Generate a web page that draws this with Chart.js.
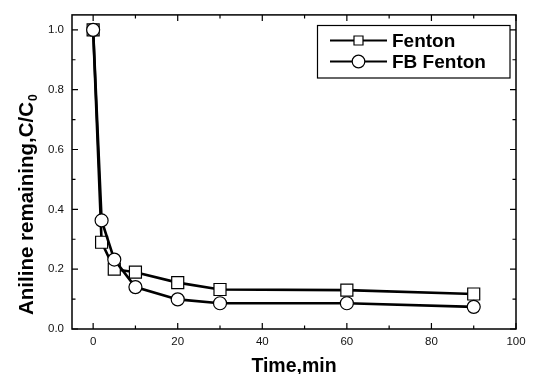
<!DOCTYPE html>
<html>
<head>
<meta charset="utf-8">
<script src="https://cdn.jsdelivr.net/npm/chart.js@4/dist/chart.umd.min.js"></script>
<style>
  html, body { margin: 0; padding: 0; background: #fff; }
  #wrap { width: 534px; height: 374px; }
</style>
</head>
<body>
<div id="wrap"><canvas id="c" width="534" height="374"></canvas></div>
<script>
// ---- data ----
const timeMin = [0, 2, 5, 10, 20, 30, 60, 90];
const fentonValues = [1.0, 0.29, 0.20, 0.19, 0.155, 0.132, 0.13, 0.117];
const fbFentonValues = [1.0, 0.363, 0.232, 0.14, 0.099, 0.086, 0.086, 0.074];
const seriesNames = ['Fenton', 'FB Fenton'];
const xTickValues = [0, 20, 40, 60, 80, 100];
const yTickValues = [0.0, 0.2, 0.4, 0.6, 0.8, 1.0];
const xTitle = 'Time,min';
const yTitle = 'Aniline remaining,C/C';
const yTitleSub = '0';

const FONT = "'Liberation Sans', Arial, Helvetica, sans-serif";

function toPoints(xs, ys) { return xs.map((x, i) => ({ x: x, y: ys[i] })); }

const framePlugin = {
  id: 'frameTicks',
  beforeDatasetsDraw(chart) {
    const { ctx, chartArea: a, scales } = chart;
    const xs = scales.x, ys = scales.y;
    ctx.save();
    ctx.strokeStyle = '#000';
    ctx.lineWidth = 1.5;
    ctx.strokeRect(a.left, a.top, a.right - a.left, a.bottom - a.top);
    ctx.lineWidth = 1.2;
    const major = 6, minor = 3.5;
    for (let i = 0; i < xTickValues.length; i++) {
      const v = xTickValues[i];
      const px = xs.getPixelForValue(v);
      ctx.beginPath();
      ctx.moveTo(px, a.bottom); ctx.lineTo(px, a.bottom - major);
      ctx.moveTo(px, a.top); ctx.lineTo(px, a.top + major);
      ctx.stroke();
      if (i < xTickValues.length - 1) {
        const m = xs.getPixelForValue((v + xTickValues[i + 1]) / 2);
        ctx.beginPath();
        ctx.moveTo(m, a.bottom); ctx.lineTo(m, a.bottom - minor);
        ctx.moveTo(m, a.top); ctx.lineTo(m, a.top + minor);
        ctx.stroke();
      }
    }
    for (let i = 0; i < yTickValues.length; i++) {
      const v = yTickValues[i];
      const py = ys.getPixelForValue(v);
      ctx.beginPath();
      ctx.moveTo(a.left, py); ctx.lineTo(a.left + major, py);
      ctx.moveTo(a.right, py); ctx.lineTo(a.right - major, py);
      ctx.stroke();
      if (i < yTickValues.length - 1) {
        const m = ys.getPixelForValue((v + yTickValues[i + 1]) / 2);
        ctx.beginPath();
        ctx.moveTo(a.left, m); ctx.lineTo(a.left + minor, m);
        ctx.moveTo(a.right, m); ctx.lineTo(a.right - minor, m);
        ctx.stroke();
      }
    }
    ctx.restore();
  },
  afterDraw(chart) {
    const { ctx, chartArea: a } = chart;
    ctx.save();
    ctx.fillStyle = '#000';
    ctx.font = 'bold 19.5px ' + FONT;
    ctx.textAlign = 'center';
    ctx.textBaseline = 'alphabetic';
    ctx.fillText(xTitle, (a.left + a.right) / 2, 372);
    ctx.translate(33, 315);
    ctx.rotate(-Math.PI / 2);
    ctx.textAlign = 'left';
    ctx.font = 'bold 20.5px ' + FONT;
    ctx.fillText(yTitle, 0, 0);
    const w = ctx.measureText(yTitle).width;
    ctx.font = 'bold 12px ' + FONT;
    ctx.fillText(yTitleSub, w + 1, 4);
    ctx.restore();

    ctx.save();
    ctx.strokeStyle = '#000';
    ctx.lineWidth = 1.2;
    ctx.strokeRect(317.5, 25.5, 192.5, 52.5);
    const rows = [40.5, 61.5];
    const styles = ['rect', 'circle'];
    for (let i = 0; i < seriesNames.length; i++) {
      const y = rows[i];
      ctx.lineWidth = 2;
      ctx.beginPath();
      ctx.moveTo(330, y); ctx.lineTo(387, y);
      ctx.stroke();
      ctx.fillStyle = '#fff';
      ctx.lineWidth = 1.2;
      ctx.beginPath();
      if (styles[i] === 'rect') {
        ctx.rect(358.5 - 4.5, y - 4.5, 9, 9);
      } else {
        ctx.arc(358.5, y, 6.3, 0, Math.PI * 2);
      }
      ctx.fill();
      ctx.stroke();
      ctx.fillStyle = '#000';
      ctx.font = 'bold 19px ' + FONT;
      ctx.textAlign = 'left';
      ctx.textBaseline = 'middle';
      ctx.fillText(seriesNames[i], 392, y + 1);
    }
    ctx.restore();
  }
};

new Chart(document.getElementById('c'), {
  type: 'line',
  data: {
    datasets: [
      {
        label: seriesNames[1],
        data: toPoints(timeMin, fbFentonValues),
        borderColor: '#000',
        borderWidth: 2.6,
        pointStyle: 'circle',
        pointRadius: 6.5,
        pointHoverRadius: 6.5,
        pointBackgroundColor: '#fff',
        pointBorderColor: '#000',
        pointBorderWidth: 1.2,
        tension: 0,
        fill: false
      },
      {
        label: seriesNames[0],
        data: toPoints(timeMin, fentonValues),
        borderColor: '#000',
        borderWidth: 2.6,
        pointStyle: 'rect',
        pointRadius: 8.5,
        pointHoverRadius: 8.5,
        pointBackgroundColor: '#fff',
        pointBorderColor: '#000',
        pointBorderWidth: 1.2,
        tension: 0,
        fill: false
      }
    ]
  },
  options: {
    responsive: false,
    animation: false,
    events: [],
    layout: { padding: { top: 13, right: 18, left: 0, bottom: 0 } },
    plugins: {
      legend: { display: false },
      tooltip: { enabled: false },
      title: { display: false }
    },
    scales: {
      x: {
        type: 'linear',
        min: -5,
        max: 100,
        grid: { display: false, drawTicks: false },
        border: { display: false },
        afterBuildTicks: (s) => { s.ticks = xTickValues.map(v => ({ value: v })); },
        afterFit: (s) => { s.height = 45; },
        ticks: {
          padding: 6,
          color: '#111',
          font: { family: FONT, size: 11.5 },
          maxRotation: 0,
          callback: (v) => String(v)
        }
      },
      y: {
        type: 'linear',
        min: 0,
        max: 1.05,
        grid: { display: false, drawTicks: false },
        border: { display: false },
        afterBuildTicks: (s) => { s.ticks = yTickValues.map(v => ({ value: v })); },
        afterFit: (s) => { s.width = 72; },
        ticks: {
          padding: 8,
          color: '#111',
          font: { family: FONT, size: 11.5 },
          callback: (v) => Number(v).toFixed(1)
        }
      }
    }
  },
  plugins: [framePlugin]
});
</script>
</body>
</html>
